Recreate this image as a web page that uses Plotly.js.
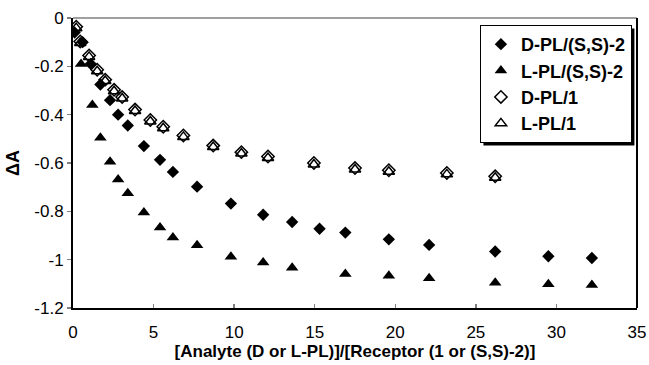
<!DOCTYPE html>
<html>
<head>
<meta charset="utf-8">
<script src="https://cdn.plot.ly/plotly-3.0.1.min.js"></script>
<style>html,body{margin:0;padding:0;background:#fff;}#chart{width:649px;height:365px;}</style>
</head>
<body>
<div id="chart"></div>
<script>
// ---- data ----
var xD2 = [0.1, 0.6, 1.1, 1.7, 2.3, 2.8, 3.4, 4.4, 5.4, 6.2, 7.7, 9.8, 11.8, 13.6, 15.3, 16.9, 19.6, 22.1, 26.2, 29.5, 32.2];
var yD2 = [-0.06, -0.10, -0.19, -0.275, -0.34, -0.40, -0.445, -0.53, -0.587, -0.637, -0.698, -0.768, -0.814, -0.844, -0.872, -0.888, -0.916, -0.939, -0.966, -0.986, -0.993];

var xL2 = [0.5, 1.2, 1.7, 2.3, 2.8, 3.4, 4.4, 5.4, 6.2, 7.7, 9.8, 11.8, 13.6, 16.9, 19.6, 22.1, 26.2, 29.5, 32.2];
var yL2 = [-0.19, -0.36, -0.495, -0.595, -0.668, -0.725, -0.805, -0.867, -0.908, -0.94, -0.988, -1.012, -1.033, -1.059, -1.067, -1.077, -1.095, -1.102, -1.105];

var xD1 = [0.2, 0.45, 1.0, 1.5, 2.0, 2.55, 3.05, 3.85, 4.8, 5.6, 6.85, 8.7, 10.45, 12.1, 14.95, 17.5, 19.6, 23.2, 26.2];
var yD1 = [-0.036, -0.097, -0.155, -0.214, -0.255, -0.297, -0.327, -0.379, -0.422, -0.450, -0.486, -0.528, -0.555, -0.573, -0.600, -0.621, -0.630, -0.641, -0.655];

var xL1 = [0.2, 0.45, 1.0, 1.5, 2.0, 2.55, 3.05, 3.85, 4.8, 5.6, 6.85, 8.7, 10.45, 12.1, 14.95, 17.5, 19.6, 23.2, 26.2];
var yL1 = [-0.042, -0.103, -0.161, -0.220, -0.261, -0.303, -0.333, -0.385, -0.428, -0.456, -0.492, -0.534, -0.561, -0.579, -0.606, -0.627, -0.636, -0.647, -0.661];

var seriesNames = ["D-PL/(S,S)-2", "L-PL/(S,S)-2", "D-PL/1", "L-PL/1"];
var xTickVals = [0, 5, 10, 15, 20, 25, 30, 35];
var yTickVals = [0, -0.2, -0.4, -0.6, -0.8, -1, -1.2];
var yTickText = ["0", "-0.2", "-0.4", "-0.6", "-0.8", "-1", "-1.2"];
var xTitle = "[Analyte (D or L-PL)]/[Receptor (1 or (S,S)-2)]";
var yTitle = "ΔA";

var FONT = "Arial, 'Liberation Sans', sans-serif";

var traces = [
  {x: xD2, y: yD2, name: seriesNames[0], legendgroup: "a", type: "scatter", mode: "markers",
   marker: {symbol: "diamond", size: 9.5, color: "#000"}},
  {x: xL2, y: yL2, name: seriesNames[1], legendgroup: "b", type: "scatter", mode: "markers",
   marker: {symbol: "triangle-up", size: 11, color: "#000"}},
  {x: xD1, y: yD1, name: seriesNames[2], legendgroup: "c", type: "scatter", mode: "markers",
   marker: {symbol: "diamond-open", size: 9.5, color: "#000", line: {width: 1.5, color: "#000"}}},
  {x: xL1, y: yL1, name: seriesNames[3], legendgroup: "d", type: "scatter", mode: "markers",
   marker: {symbol: "triangle-up-open", size: 10, color: "#000", line: {width: 1.5, color: "#000"}}}
];

var layout = {
  width: 649, height: 365,
  margin: {l: 73, r: 12, t: 18, b: 57},
  paper_bgcolor: "#fff", plot_bgcolor: "#fff",
  font: {family: FONT, color: "#000", size: 17},
  showlegend: true,
  legend: {
    x: 0.991, xanchor: "right", y: 0.976, yanchor: "top",
    bgcolor: "#fff", bordercolor: "#000", borderwidth: 1,
    font: {family: FONT, size: 18, color: "#000", weight: "bold"},
    tracegroupgap: 0, itemwidth: 30
  },
  xaxis: {
    range: [0, 35], tickvals: xTickVals, ticks: "inside", ticklen: 4, tickcolor: "#808080", tickwidth: 1.5,
    showline: true, linecolor: "#000", linewidth: 2, mirror: false,
    showgrid: false, zeroline: false,
    tickfont: {family: FONT, size: 17}, ticklabelstandoff: 8,
    title: {text: xTitle, font: {family: FONT, size: 17, weight: "bold"}, standoff: 4}
  },
  yaxis: {
    range: [-1.2, 0], tickvals: yTickVals, ticktext: yTickText, ticks: "outside", ticklen: 4, tickcolor: "#808080", tickwidth: 1.5,
    showline: true, linecolor: "#000", linewidth: 2,
    showgrid: false, zeroline: false,
    tickfont: {family: FONT, size: 17},
    title: {text: yTitle, font: {family: FONT, size: 18, weight: "bold"}, standoff: 10}
  },
  shapes: [
    {type: "line", xref: "paper", yref: "paper", x0: 0, x1: 1, y0: 1, y1: 1, line: {color: "#808080", width: 1.5}},
    {type: "line", xref: "paper", yref: "paper", x0: 1, x1: 1, y0: 0, y1: 1, line: {color: "#000", width: 2}}
  ]
};

Plotly.newPlot("chart", traces, layout, {displayModeBar: false, staticPlot: true}).then(function (gd) {
  // add drop shadow behind legend box
  var bg = gd.querySelector(".legend .bg");
  if (!bg) return;
  var r = bg.getBoundingClientRect();
  var c = gd.getBoundingClientRect();
  var fl = gd._fullLayout, s = fl._size;
  function px2x(p) { return (p - c.left - s.l) / s.w; }
  function py2y(p) { return 1 - (p - c.top - s.t) / s.h; }
  var sh = {type: "rect", xref: "paper", yref: "paper", layer: "above",
    x0: px2x(r.left + 3), x1: px2x(r.right + 3), y0: py2y(r.bottom + 3), y1: py2y(r.top + 3),
    fillcolor: "#000", line: {width: 0}};
  Plotly.relayout(gd, {shapes: layout.shapes.concat([sh])});
});
</script>
</body>
</html>
